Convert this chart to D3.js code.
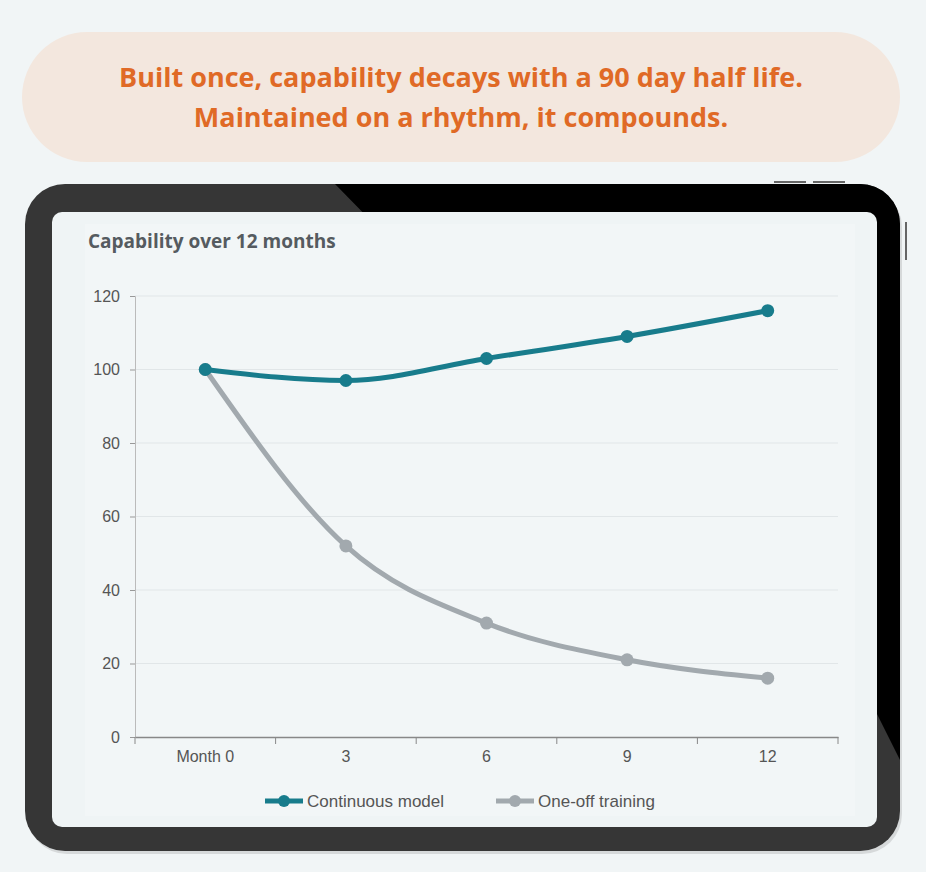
<!DOCTYPE html>
<html><head><meta charset="utf-8">
<script src="https://cdn.jsdelivr.net/npm/d3@7"></script>
<style>body{margin:0;background:#f1f5f6;}</style>
</head><body><div id="chart"></div>
<script>
var months = ['Month 0', '3', '6', '9', '12'];
var continuous = [100, 97, 103, 109, 116];
var oneOff = [100, 52, 31, 21, 16];
var yTicks = [0, 20, 40, 60, 80, 100, 120];

var svg = d3.select('#chart').append('svg').attr('width', 926).attr('height', 872);
svg.append('rect').attr('width', 926).attr('height', 872).attr('fill', '#f1f5f6');

// title banner
svg.append('rect').attr('x', 22).attr('y', 32).attr('width', 878).attr('height', 130)
  .attr('rx', 65).attr('fill', '#f3e7de');
svg.append('text').attr('x', 461).attr('y', 87).attr('text-anchor', 'middle')
  .attr('font-family', 'Open Sans, sans-serif').attr('font-weight', 700).attr('font-size', 27)
  .attr('fill', '#e06a26').text('Built once, capability decays with a 90 day half life.');
svg.append('text').attr('x', 461).attr('y', 127).attr('text-anchor', 'middle')
  .attr('font-family', 'Open Sans, sans-serif').attr('font-weight', 700).attr('font-size', 27)
  .attr('fill', '#e06a26').text('Maintained on a rhythm, it compounds.');

// tablet frame
svg.append('rect').attr('x', 27).attr('y', 187).attr('width', 875).attr('height', 667)
  .attr('rx', 40).attr('fill', '#d6d9da');
var clip = svg.append('clipPath').attr('id', 'frame');
clip.append('rect').attr('x', 25).attr('y', 184).attr('width', 875).attr('height', 667).attr('rx', 40);
svg.append('rect').attr('x', 25).attr('y', 184).attr('width', 875).attr('height', 667)
  .attr('rx', 40).attr('fill', '#363636');
svg.append('polygon').attr('clip-path', 'url(#frame)')
  .attr('points', '335,184 905,184 905,770 840,640 840,230 380,230').attr('fill', '#000');
svg.append('rect').attr('x', 52).attr('y', 212).attr('width', 825).attr('height', 615)
  .attr('rx', 10).attr('fill', '#eff4f5');
svg.append('rect').attr('x', 85).attr('y', 224).attr('width', 770).attr('height', 592).attr('fill', '#f2f6f7');
// buttons
svg.append('line').attr('x1', 774).attr('x2', 806).attr('y1', 182).attr('y2', 182).attr('stroke', '#666').attr('stroke-width', 2);
svg.append('line').attr('x1', 813).attr('x2', 845).attr('y1', 182).attr('y2', 182).attr('stroke', '#666').attr('stroke-width', 2);
svg.append('line').attr('x1', 906).attr('x2', 906).attr('y1', 222).attr('y2', 260).attr('stroke', '#666').attr('stroke-width', 2);

svg.append('text').attr('x', 88).attr('y', 248).attr('font-family', 'Open Sans, sans-serif')
  .attr('font-weight', 700).attr('font-size', 19).attr('fill', '#555b60').text('Capability over 12 months');

var x = d3.scaleBand().domain(months).range([135, 838]);
var y = d3.scaleLinear().domain([0, 120]).range([737, 296]);

var g = svg.append('g').attr('font-family', 'Liberation Sans, Arial, sans-serif');
g.selectAll('.grid').data(yTicks.slice(1)).enter().append('line')
  .attr('x1', 135).attr('x2', 838).attr('y1', function (d) { return y(d); }).attr('y2', function (d) { return y(d); })
  .attr('stroke', '#e1e6e8');

var yAxis = g.append('g').attr('transform', 'translate(135,0)')
  .call(d3.axisLeft(y).tickValues(yTicks).tickSize(5).tickPadding(10));
yAxis.select('.domain').attr('stroke', '#bbb');
yAxis.selectAll('line').attr('stroke', '#999');
yAxis.selectAll('text').attr('font-size', 16).attr('fill', '#555');

var xAxis = g.append('g').attr('transform', 'translate(0,737)')
  .call(d3.axisBottom(x).tickSize(0).tickPadding(14));
xAxis.select('.domain').attr('stroke', '#888').attr('stroke-width', 1.5);
xAxis.selectAll('text').attr('font-size', 16).attr('fill', '#555');
g.selectAll('.xt').data(d3.range(months.length + 1)).enter().append('line')
  .attr('x1', function (i) { return 135 + i * x.step(); }).attr('x2', function (i) { return 135 + i * x.step(); })
  .attr('y1', 737).attr('y2', 744).attr('stroke', '#888');

var line = d3.line().x(function (d, i) { return x(months[i]) + x.bandwidth() / 2; })
  .y(function (d) { return y(d); }).curve(d3.curveMonotoneX);

[[oneOff, '#a2a9ae'], [continuous, '#187c8c']].forEach(function (s) {
  g.append('path').datum(s[0]).attr('d', line).attr('fill', 'none').attr('stroke', s[1]).attr('stroke-width', 5);
  g.selectAll(null).data(s[0]).enter().append('circle')
    .attr('cx', function (d, i) { return x(months[i]) + x.bandwidth() / 2; })
    .attr('cy', function (d) { return y(d); }).attr('r', 6.5).attr('fill', s[1]);
});

// legend
var legend = [['Continuous model', '#187c8c', 265], ['One-off training', '#a2a9ae', 496]];
legend.forEach(function (l) {
  g.append('line').attr('x1', l[2]).attr('x2', l[2] + 38).attr('y1', 801).attr('y2', 801).attr('stroke', l[1]).attr('stroke-width', 5);
  g.append('circle').attr('cx', l[2] + 19).attr('cy', 801).attr('r', 6).attr('fill', l[1]);
  g.append('text').attr('x', l[2] + 42).attr('y', 807).attr('font-size', 17).attr('fill', '#555').text(l[0]);
});
</script></body></html>
